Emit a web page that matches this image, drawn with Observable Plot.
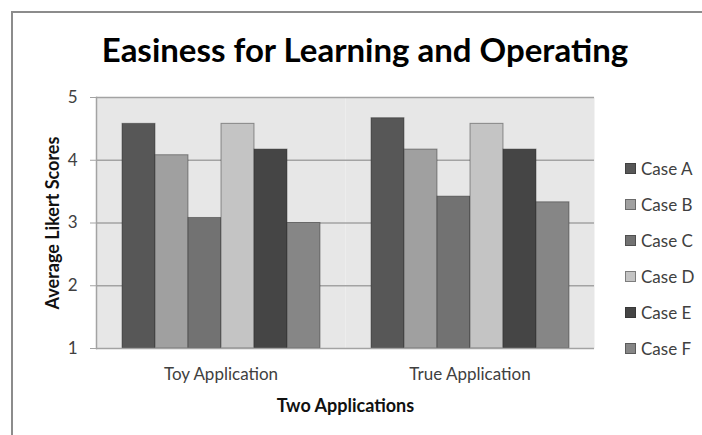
<!DOCTYPE html>
<html><head><meta charset="utf-8">
<script src="https://cdn.jsdelivr.net/npm/d3@7"></script>
<script src="https://cdn.jsdelivr.net/npm/@observablehq/plot@0.6"></script>
<style>
html,body{margin:0;padding:0;background:#fff;}
#wrap{position:relative;width:702px;height:435px;overflow:hidden;font-family:Lato,sans-serif;background:#fff;}
#border{position:absolute;left:11px;top:11px;width:720px;height:460px;border-left:2px solid #8c8c8c;border-top:2px solid #8c8c8c;}
#title{position:absolute;left:60px;width:610px;top:33px;text-align:center;font:bold 33px/33px Lato,sans-serif;color:#000;white-space:nowrap;}
#chart{position:absolute;left:0;top:0;}
#legend{position:absolute;left:625px;top:150px;}
.row{display:flex;align-items:center;height:36px;font-size:17px;color:#404040;}
.sw{width:9px;height:9px;border:1px solid rgba(40,40,40,0.45);margin-right:5px;}
[aria-label$="axis label"] text{font-weight:bold;fill:#111;font-size:18px;}
</style>
</head><body>
<div id="wrap">
  <div id="border"></div>
  <div id="chart"></div>
  <div id="title">Easiness for Learning and Operating</div>
  <div id="legend"></div>
</div>
<script>
const applications = ["Toy Application", "True Application"];
const cases = ["Case A", "Case B", "Case C", "Case D", "Case E", "Case F"];
const toyScores = [4.58, 4.08, 3.08, 4.58, 4.17, 3.0];
const trueScores = [4.67, 4.17, 3.42, 4.58, 4.17, 3.33];
const yTicks = [1, 2, 3, 4, 5];
const caseColors = ["#575757", "#a0a0a0", "#727272", "#c4c4c4", "#454545", "#868686"];

const scoresByApp = [toyScores, trueScores];
const data = applications.flatMap((app, i) =>
  cases.map((c, j) => ({app, kase: c, value: scoresByApp[i][j]})));

const chart = Plot.plot({
  width: 702, height: 435,
  marginLeft: 95, marginRight: 108, marginTop: 97, marginBottom: 87,
  style: {background: "transparent", fontFamily: "Lato, sans-serif", fontSize: "17px", color: "#404040", overflow: "visible"},
  fx: {domain: applications, padding: 0, axis: null},
  x: {domain: cases, paddingInner: 0, paddingOuter: 0.75, axis: null},
  y: {domain: [1, 5], axis: null},
  color: {domain: cases, range: caseColors},
  marks: [
    Plot.frame({fill: "#e7e7e7", stroke: null}),
    Plot.gridY(yTicks.slice(1), {stroke: "#a3a3a3", strokeOpacity: 1, strokeWidth: 1.5}),
    Plot.barY(data, {fx: "app", x: "kase", y1: 1, y2: "value", fill: "kase", stroke: "#282828", strokeOpacity: 0.45, strokeWidth: 1}),
    Plot.ruleY([1], {stroke: "#a3a3a3", strokeWidth: 1.5}),
    Plot.frame({anchor: "left", facetAnchor: "left", stroke: "#a3a3a3", strokeWidth: 1.5}),
    Plot.axisY(yTicks, {tickSize: 6, tickPadding: 13, tickFormat: d => String(d), stroke: "#a3a3a3", label: "Average Likert Scores", labelAnchor: "center", labelOffset: 50, labelArrow: "none"}),
    Plot.axisFx({anchor: "bottom", tickSize: 0, tickPadding: 19, label: "Two Applications", labelAnchor: "center", labelOffset: 63})
  ]
});
document.getElementById("chart").appendChild(chart);

const legend = document.getElementById("legend");
cases.forEach((c, i) => {
  const row = document.createElement("div");
  row.className = "row";
  const sw = document.createElement("div");
  sw.className = "sw";
  sw.style.background = caseColors[i];
  const lab = document.createElement("span");
  lab.textContent = c;
  row.appendChild(sw);
  row.appendChild(lab);
  legend.appendChild(row);
});
</script>
</body></html>
